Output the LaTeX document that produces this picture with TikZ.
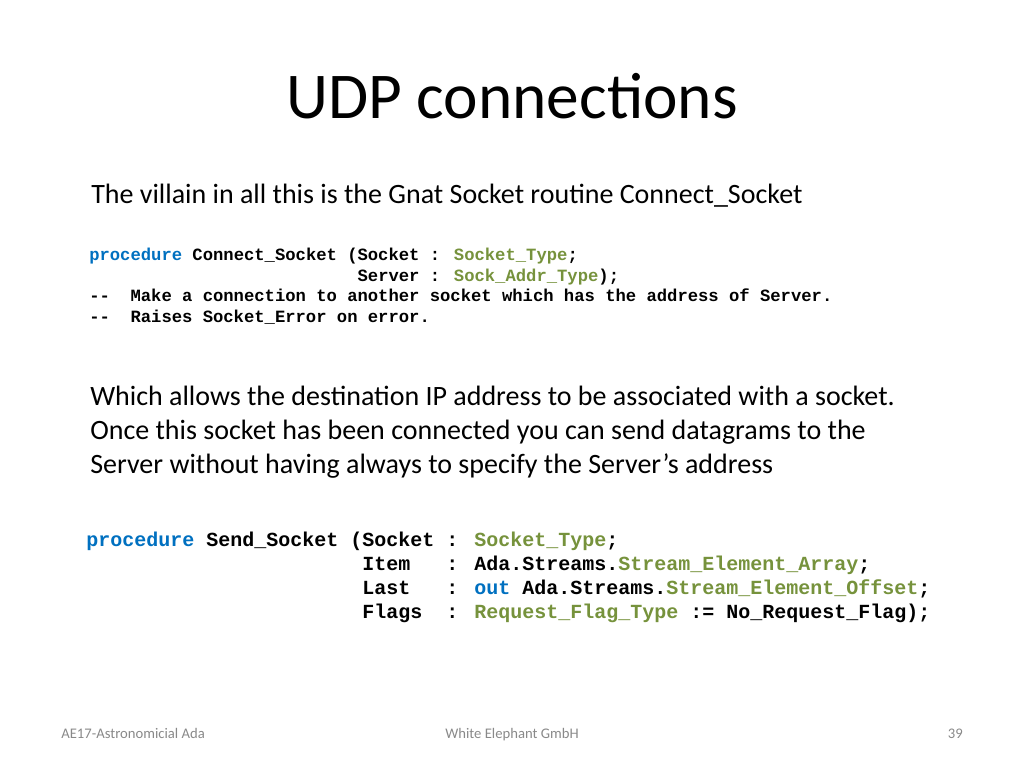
\documentclass[tikz,border=0pt]{standalone}
\usepackage{fontspec}
\setmainfont{Carlito}
\newfontfamily\codefont{Liberation Mono}
\definecolor{kwblue}{RGB}{0,112,192}
\definecolor{tygreen}{RGB}{118,146,60}
\definecolor{footgray}{RGB}{137,137,137}
\newcommand\kw[1]{\textcolor{kwblue}{#1}}
\newcommand\ty[1]{\textcolor{tygreen}{#1}}
\begin{document}
\begin{tikzpicture}[x=0.75pt,y=-0.75pt,
  ln/.style={anchor=base west,inner sep=0pt},
  codeA/.style={ln,font=\codefont\bfseries\fontsize{12.9}{14}\selectfont},
  codeB/.style={ln,font=\codefont\bfseries\fontsize{15}{17}\selectfont},
  body/.style={ln,font=\fontsize{21}{25}\selectfont}]
\useasboundingbox (0,0) rectangle (1024,768);
\node[anchor=base,inner sep=0pt,font=\fontsize{49}{58}\selectfont] (title) at (512,118) {UDP connections};
\node[body] (t1) at (91,203) {The villain in all this is the Gnat Socket routine Connect\_Socket};
\node[codeA] (a1) at (89,260) {\kw{procedure} Connect\_Socket (Socket : \ty{Socket\_Type};};
\node[codeA] (a2) at (89,281) {\phantom{procedure Connect\_Socket (}Server : \ty{Sock\_Addr\_Type});};
\node[codeA] (a3) at (89,301) {--~~Make a connection to another socket which has the address of Server.};
\node[codeA] (a4) at (89,322) {--~~Raises Socket\_Error on error.};
\node[body] (t2) at (90,405) {Which allows the destination IP address to be associated with a socket.};
\node[body] (t3) at (90,439) {Once this socket has been connected you can send datagrams to the};
\node[body] (t4) at (90,473) {Server without having always to specify the Server’s address};
\node[codeB] (b1) at (86,546) {\kw{procedure} Send\_Socket (Socket : \ty{Socket\_Type};};
\node[codeB] (b2) at (86,570) {\phantom{procedure Send\_Socket (}Item~~~: Ada.Streams.\ty{Stream\_Element\_Array};};
\node[codeB] (b3) at (86,594) {\phantom{procedure Send\_Socket (}Last~~~: \kw{out} Ada.Streams.\ty{Stream\_Element\_Offset};};
\node[codeB] (b4) at (86,618) {\phantom{procedure Send\_Socket (}Flags~~: \ty{Request\_Flag\_Type} := No\_Request\_Flag);};
\node[ln,font=\fontsize{11}{13}\selectfont,text=footgray] (f1) at (61,738) {AE17-Astronomicial Ada};
\node[anchor=base,inner sep=0pt,font=\fontsize{11}{13}\selectfont,text=footgray] (f2) at (512,738) {White Elephant GmbH};
\node[anchor=base east,inner sep=0pt,font=\fontsize{11}{13}\selectfont,text=footgray] (f3) at (963,738) {39};
\end{tikzpicture}
\end{document}
